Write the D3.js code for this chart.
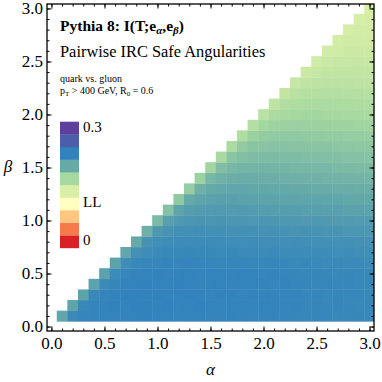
<!DOCTYPE html>
<html>
<head>
<meta charset="utf-8">
<script src="https://cdn.jsdelivr.net/npm/d3@7"></script>
<style>
  body { margin: 0; background: #fff; }
  text { font-family: "Liberation Serif", "DejaVu Serif", serif; fill: #000; }
</style>
</head>
<body>
<div id="chart-area"></div>
<script>
// grid centres (alpha on x, beta on y)
const alphaValues = [0.1, 0.2, 0.3, 0.4, 0.5, 0.6, 0.7, 0.8, 0.9, 1.0, 1.1, 1.2, 1.3, 1.4, 1.5,
  1.6, 1.7, 1.8, 1.9, 2.0, 2.1, 2.2, 2.3, 2.4, 2.5, 2.6, 2.7, 2.8, 2.9, 3.0];
const betaValues = [0.1, 0.2, 0.3, 0.4, 0.5, 0.6, 0.7, 0.8, 0.9, 1.0, 1.1, 1.2, 1.3, 1.4, 1.5,
  1.6, 1.7, 1.8, 1.9, 2.0, 2.1, 2.2, 2.3, 2.4, 2.5, 2.6, 2.7, 2.8, 2.9, 3.0];

// mutual information per row of beta, starting at alpha = beta and running to alpha = 3.0
const miRows = [
  [0.203, 0.227, 0.230, 0.231, 0.232, 0.232, 0.231, 0.232, 0.233, 0.232, 0.232, 0.231, 0.232, 0.232, 0.231, 0.231, 0.232, 0.231, 0.230, 0.231, 0.231, 0.230, 0.230, 0.229, 0.230, 0.229, 0.228, 0.228, 0.229, 0.228],
  [0.205, 0.228, 0.231, 0.232, 0.233, 0.232, 0.233, 0.233, 0.232, 0.233, 0.232, 0.232, 0.233, 0.232, 0.231, 0.232, 0.232, 0.231, 0.232, 0.231, 0.230, 0.231, 0.230, 0.230, 0.229, 0.230, 0.229, 0.228, 0.229],
  [0.206, 0.228, 0.231, 0.232, 0.233, 0.233, 0.232, 0.233, 0.232, 0.232, 0.233, 0.232, 0.231, 0.232, 0.232, 0.231, 0.232, 0.231, 0.231, 0.230, 0.231, 0.230, 0.230, 0.229, 0.230, 0.229, 0.229, 0.228],
  [0.206, 0.227, 0.230, 0.232, 0.232, 0.233, 0.232, 0.232, 0.233, 0.232, 0.231, 0.232, 0.232, 0.231, 0.232, 0.231, 0.231, 0.230, 0.231, 0.230, 0.230, 0.229, 0.230, 0.229, 0.229, 0.228, 0.228],
  [0.207, 0.226, 0.230, 0.231, 0.232, 0.232, 0.231, 0.232, 0.232, 0.231, 0.232, 0.231, 0.231, 0.232, 0.231, 0.230, 0.231, 0.230, 0.230, 0.229, 0.230, 0.229, 0.228, 0.229, 0.228, 0.228],
  [0.206, 0.224, 0.228, 0.230, 0.230, 0.231, 0.230, 0.231, 0.230, 0.230, 0.229, 0.230, 0.230, 0.229, 0.229, 0.230, 0.229, 0.228, 0.229, 0.228, 0.227, 0.228, 0.227, 0.227, 0.226],
  [0.203, 0.221, 0.225, 0.227, 0.228, 0.228, 0.229, 0.228, 0.228, 0.227, 0.228, 0.227, 0.227, 0.226, 0.227, 0.226, 0.226, 0.225, 0.226, 0.225, 0.224, 0.225, 0.224, 0.223],
  [0.200, 0.219, 0.223, 0.225, 0.226, 0.225, 0.226, 0.226, 0.225, 0.225, 0.224, 0.225, 0.224, 0.224, 0.223, 0.224, 0.223, 0.222, 0.222, 0.221, 0.222, 0.221, 0.220],
  [0.196, 0.215, 0.219, 0.222, 0.222, 0.223, 0.222, 0.222, 0.221, 0.222, 0.221, 0.220, 0.221, 0.220, 0.219, 0.220, 0.219, 0.218, 0.218, 0.217, 0.217, 0.216],
  [0.189, 0.209, 0.214, 0.217, 0.218, 0.217, 0.218, 0.217, 0.217, 0.216, 0.217, 0.216, 0.215, 0.215, 0.214, 0.215, 0.214, 0.213, 0.213, 0.212, 0.212],
  [0.184, 0.205, 0.210, 0.212, 0.213, 0.213, 0.212, 0.213, 0.212, 0.211, 0.211, 0.210, 0.210, 0.209, 0.209, 0.208, 0.208, 0.207, 0.207, 0.206],
  [0.178, 0.200, 0.205, 0.207, 0.208, 0.208, 0.207, 0.207, 0.206, 0.206, 0.205, 0.205, 0.204, 0.204, 0.203, 0.203, 0.202, 0.202, 0.201],
  [0.175, 0.195, 0.200, 0.202, 0.203, 0.203, 0.202, 0.202, 0.201, 0.201, 0.200, 0.200, 0.199, 0.199, 0.198, 0.198, 0.197, 0.197],
  [0.172, 0.191, 0.195, 0.197, 0.198, 0.198, 0.197, 0.197, 0.196, 0.196, 0.195, 0.195, 0.194, 0.194, 0.193, 0.193, 0.192],
  [0.169, 0.186, 0.190, 0.192, 0.193, 0.193, 0.192, 0.192, 0.191, 0.191, 0.190, 0.190, 0.189, 0.189, 0.188, 0.188],
  [0.166, 0.181, 0.185, 0.187, 0.188, 0.188, 0.187, 0.187, 0.186, 0.186, 0.185, 0.185, 0.184, 0.184, 0.183],
  [0.163, 0.177, 0.181, 0.182, 0.183, 0.183, 0.182, 0.182, 0.181, 0.181, 0.180, 0.180, 0.179, 0.179],
  [0.160, 0.172, 0.176, 0.177, 0.178, 0.178, 0.177, 0.177, 0.176, 0.176, 0.175, 0.175, 0.174],
  [0.157, 0.168, 0.171, 0.172, 0.173, 0.173, 0.172, 0.172, 0.171, 0.171, 0.170, 0.170],
  [0.154, 0.163, 0.166, 0.167, 0.168, 0.168, 0.167, 0.167, 0.166, 0.166, 0.165],
  [0.151, 0.159, 0.161, 0.162, 0.163, 0.163, 0.162, 0.162, 0.161, 0.161],
  [0.148, 0.154, 0.156, 0.157, 0.158, 0.158, 0.157, 0.157, 0.156],
  [0.145, 0.150, 0.152, 0.153, 0.153, 0.153, 0.152, 0.152],
  [0.142, 0.146, 0.148, 0.149, 0.149, 0.149, 0.148],
  [0.140, 0.143, 0.145, 0.145, 0.146, 0.145],
  [0.138, 0.140, 0.142, 0.142, 0.142],
  [0.137, 0.139, 0.140, 0.140],
  [0.136, 0.137, 0.138],
  [0.135, 0.136],
  [0.134]
];

// legend swatches from 0 (bottom) to 0.3 (top)
const legendColors = ["#da1f26", "#f47b4b", "#fec67e", "#ffffbf", "#d9efa6",
  "#a6d9a0", "#66aaa8", "#3182bd", "#4c5ea9", "#5d3f9e"];
const legendLabels = ["0", "", "", "LL", "", "", "", "", "", "0.3"];
const colorDomain = [0, 0.3];

const majorTicks = [0, 0.5, 1.0, 1.5, 2.0, 2.5, 3.0];
const minorTicks = [0, 0.1, 0.2, 0.3, 0.4, 0.5, 0.6, 0.7, 0.8, 0.9, 1.0, 1.1, 1.2, 1.3, 1.4, 1.5,
  1.6, 1.7, 1.8, 1.9, 2.0, 2.1, 2.2, 2.3, 2.4, 2.5, 2.6, 2.7, 2.8, 2.9, 3.0];

const canvasWidth = 382;
const canvasHeight = 382;
const frame = {left: 47, top: 4, right: 374, bottom: 331};

const canvas = d3.select("#chart-area").append("svg")
  .attr("width", canvasWidth).attr("height", canvasHeight);

const xScale = d3.scaleLinear().domain([-0.042, 3.042]).range([frame.left, frame.right]);
const yScale = d3.scaleLinear().domain([-0.042, 3.042]).range([frame.bottom, frame.top]);
const colorScale = d3.scaleSequential(d3.piecewise(d3.interpolateRgb, legendColors)).domain(colorDomain);

canvas.append("clipPath").attr("id", "plot-clip")
  .append("rect")
  .attr("x", frame.left).attr("y", frame.top)
  .attr("width", frame.right - frame.left).attr("height", frame.bottom - frame.top);

const cells = [];
miRows.forEach((row, i) => {
  row.forEach((v, j) => {
    cells.push({alpha: alphaValues[i + j], beta: betaValues[i], value: v});
  });
});

const half = 0.05;
canvas.append("g").attr("clip-path", "url(#plot-clip)")
  .selectAll("rect")
  .data(cells)
  .enter()
  .append("rect")
  .attr("x", d => xScale(d.alpha - half))
  .attr("y", d => yScale(d.beta + half))
  .attr("width", d => xScale(d.alpha + half) - xScale(d.alpha - half) + 0.4)
  .attr("height", d => yScale(d.beta - half) - yScale(d.beta + half) + 0.4)
  .attr("fill", d => colorScale(d.value));

// frame ticks, pointing inward
function addAxis(axisFn, scale, transform, values, size, labels) {
  const axis = axisFn(scale).tickValues(values).tickSizeInner(-size).tickSizeOuter(0)
    .tickPadding(axisFn === d3.axisLeft ? 4 : 6)
    .tickFormat(labels ? d3.format(".1f") : "");
  const g = canvas.append("g").attr("transform", transform).call(axis);
  g.select(".domain").remove();
  g.selectAll("line").attr("stroke", "#000").attr("stroke-width", 1);
  g.selectAll("text").attr("font-size", "17px").attr("font-family", "Liberation Serif");
  return g;
}

addAxis(d3.axisBottom, xScale, `translate(0, ${frame.bottom})`, minorTicks, 2.5, false);
addAxis(d3.axisBottom, xScale, `translate(0, ${frame.bottom})`, majorTicks, 4.5, true);
addAxis(d3.axisTop, xScale, `translate(0, ${frame.top})`, minorTicks, 2.5, false);
addAxis(d3.axisTop, xScale, `translate(0, ${frame.top})`, majorTicks, 4.5, false);
addAxis(d3.axisLeft, yScale, `translate(${frame.left}, 0)`, minorTicks, 2.5, false);
addAxis(d3.axisLeft, yScale, `translate(${frame.left}, 0)`, majorTicks, 4.5, true);
addAxis(d3.axisRight, yScale, `translate(${frame.right}, 0)`, minorTicks, 2.5, false);
addAxis(d3.axisRight, yScale, `translate(${frame.right}, 0)`, majorTicks, 4.5, false);

canvas.append("rect")
  .attr("x", frame.left).attr("y", frame.top)
  .attr("width", frame.right - frame.left).attr("height", frame.bottom - frame.top)
  .attr("fill", "none").attr("stroke", "#000").attr("stroke-width", 1.3);

// axis titles
canvas.append("text")
  .attr("x", xScale(1.5)).attr("y", 375)
  .attr("text-anchor", "middle").attr("font-size", "17px").attr("font-style", "italic")
  .text("α");

canvas.append("text")
  .attr("x", 8).attr("y", yScale(1.5) + 4)
  .attr("text-anchor", "middle").attr("font-size", "17px").attr("font-style", "italic")
  .text("β");

// titles
const title = canvas.append("text")
  .attr("x", 60).attr("y", 31)
  .attr("font-size", "15.5px").attr("font-weight", "bold");
title.append("tspan").text("Pythia 8: I(T;e");
title.append("tspan").attr("font-size", "11px").attr("font-style", "italic").attr("dy", 3).text("α");
title.append("tspan").attr("dy", -3).text(",e");
title.append("tspan").attr("font-size", "11px").attr("font-style", "italic").attr("dy", 3).text("β");
title.append("tspan").attr("dy", -3).text(")");

canvas.append("text")
  .attr("x", 60).attr("y", 57)
  .attr("font-size", "16.4px")
  .text("Pairwise IRC Safe Angularities");

canvas.append("text")
  .attr("x", 60).attr("y", 82)
  .attr("font-size", "10px")
  .text("quark vs. gluon");

const cuts = canvas.append("text")
  .attr("x", 60).attr("y", 94)
  .attr("font-size", "10px");
cuts.append("tspan").text("p");
cuts.append("tspan").attr("font-size", "7px").attr("dy", 2).text("T");
cuts.append("tspan").attr("dy", -2).text(" > 400 GeV, R");
cuts.append("tspan").attr("font-size", "7px").attr("dy", 2).text("0");
cuts.append("tspan").attr("dy", -2).text(" = 0.6");

// legend
const swatchTop = 121.7;
const swatchHeight = 12.62;
const legend = canvas.append("g");
legend.selectAll("rect")
  .data(legendColors)
  .enter()
  .append("rect")
  .attr("x", 60)
  .attr("y", (d, i) => swatchTop + (legendColors.length - 1 - i) * swatchHeight)
  .attr("width", 19)
  .attr("height", swatchHeight + 0.3)
  .attr("fill", d => d);

legend.selectAll("text")
  .data(legendLabels)
  .enter()
  .append("text")
  .attr("x", 83)
  .attr("y", (d, i) => swatchTop + (legendLabels.length - 1 - i) * swatchHeight + swatchHeight / 2 + 3.5)
  .attr("font-size", "15px")
  .text(d => d);
</script>
</body>
</html>
